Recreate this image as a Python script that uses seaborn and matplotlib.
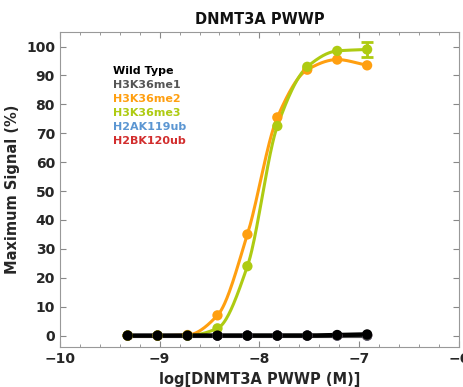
import numpy as np
import pandas as pd
import matplotlib
matplotlib.use('Agg')
import matplotlib.pyplot as plt
import seaborn as sns
from matplotlib.ticker import MultipleLocator

# concentrations (2-fold dilution from 120 nM), log10 M
log_conc = [-9.32, -9.02, -8.72, -8.42, -8.12, -7.82, -7.52, -7.22, -6.92]

wild_type = [0.0, 0.0, 0.0, 0.0, 0.0, 0.0, 0.0, 0.2, 0.4]
h3k36me1 = [0.0, 0.0, 0.0, 0.0, 0.0, 0.0, 0.0, 0.0, 0.0]
h3k36me2 = [0.0, 0.0, 0.2, 7.0, 35.0, 75.5, 92.0, 95.5, 93.5]
h3k36me3 = [0.0, 0.0, 0.0, 2.5, 24.0, 72.5, 93.0, 98.5, 99.0]
h2ak119ub = [0.0, 0.0, 0.0, 0.0, 0.0, 0.0, 0.0, 0.0, 0.0]
h2bk120ub = [0.0, 0.0, 0.0, 0.0, 0.0, 0.0, 0.0, 0.0, 0.0]
me3_err = [0.0, 0.0, 0.0, 0.0, 0.0, 0.0, 0.0, 0.0, 2.5]

names = ['Wild Type', 'H3K36me1', 'H3K36me2', 'H3K36me3', 'H2AK119ub', 'H2BK120ub']
colors = {'Wild Type': '#000000', 'H3K36me1': '#555555', 'H3K36me2': '#FF9F10',
          'H3K36me3': '#AECB12', 'H2AK119ub': '#5B96D2', 'H2BK120ub': '#D22E2E'}
series = {'Wild Type': wild_type, 'H3K36me1': h3k36me1, 'H3K36me2': h3k36me2,
          'H3K36me3': h3k36me3, 'H2AK119ub': h2ak119ub, 'H2BK120ub': h2bk120ub}


def pchip(x, y, xs):
    # monotone cubic curve through the points
    x = np.asarray(x, float)
    y = np.asarray(y, float)
    h = np.diff(x)
    d = np.diff(y) / h
    m = np.zeros_like(y)
    for k in range(1, len(x) - 1):
        if d[k - 1] * d[k] > 0:
            w1 = 2 * h[k] + h[k - 1]
            w2 = h[k] + 2 * h[k - 1]
            m[k] = (w1 + w2) / (w1 / d[k - 1] + w2 / d[k])
    m[0] = d[0]
    m[-1] = d[-1]
    idx = np.clip(np.searchsorted(x, xs) - 1, 0, len(x) - 2)
    t = (xs - x[idx]) / h[idx]
    h00 = 2 * t**3 - 3 * t**2 + 1
    h10 = t**3 - 2 * t**2 + t
    h01 = -2 * t**3 + 3 * t**2
    h11 = t**3 - t**2
    return h00 * y[idx] + h10 * h[idx] * m[idx] + h01 * y[idx + 1] + h11 * h[idx] * m[idx + 1]


rows = []
curves = []
xs = np.linspace(log_conc[0], log_conc[-1], 300)
for n in names:
    for xv, yv in zip(log_conc, series[n]):
        rows.append({'x': xv, 'y': yv, 'grp': n})
    for xv, yv in zip(xs, pchip(log_conc, series[n], xs)):
        curves.append({'x': xv, 'y': yv, 'grp': n})
pts = pd.DataFrame(rows)
fit = pd.DataFrame(curves)

sns.set_style('ticks')
plt.rcParams['font.family'] = ['DejaVu Sans']

fig = plt.figure(figsize=(4.64, 3.87), dpi=100)
ax = fig.add_axes([0.129, 0.103, 0.860, 0.814])

# draw hidden series first, wild type last on top
order = ['H2BK120ub', 'H2AK119ub', 'H3K36me1', 'H3K36me2', 'H3K36me3', 'Wild Type']
for n in order:
    lw = 3.2 if n == 'Wild Type' else 2.2
    sns.lineplot(data=fit[fit.grp == n], x='x', y='y', color=colors[n], lw=lw, ax=ax,
                 legend=False, zorder=3)
    sns.scatterplot(data=pts[pts.grp == n], x='x', y='y', color=colors[n], s=55,
                    edgecolor='none', ax=ax, legend=False, zorder=4)
    if n == 'H3K36me3':
        ax.errorbar(log_conc[-1], h3k36me3[-1], yerr=me3_err[-1], color=colors[n],
                    lw=2, capsize=4, capthick=2, zorder=4)

ax.set_xlim(-10, -6)
ax.set_ylim(-4, 105)
ax.xaxis.set_major_locator(MultipleLocator(1))
ax.xaxis.set_minor_locator(MultipleLocator(0.2))
ax.yaxis.set_major_locator(MultipleLocator(10))
ax.tick_params(which='both', direction='in', top=True, right=True, colors='#888888',
               labelcolor='#262626', labelsize=10)
ax.tick_params(which='major', length=4)
ax.tick_params(which='minor', length=2.5)
for lab in ax.get_xticklabels() + ax.get_yticklabels():
    lab.set_fontweight('bold')
for sp in ax.spines.values():
    sp.set_color('#999999')
    sp.set_linewidth(0.8)

ax.set_title('DNMT3A PWWP', fontsize=10.5, fontweight='bold', color='#111111', pad=6)
ax.set_xlabel('log[DNMT3A PWWP (M)]', fontsize=10.5, fontweight='bold', color='#262626')
ax.set_ylabel('Maximum Signal (%)', fontsize=10.5, fontweight='bold', color='#262626')

for i, n in enumerate(names):
    ax.text(0.133, 0.876 - i * 0.0445, n, transform=ax.transAxes, color=colors[n],
            fontsize=8, fontweight='bold', va='center', ha='left')

fig.savefig('out.png', dpi=100)
